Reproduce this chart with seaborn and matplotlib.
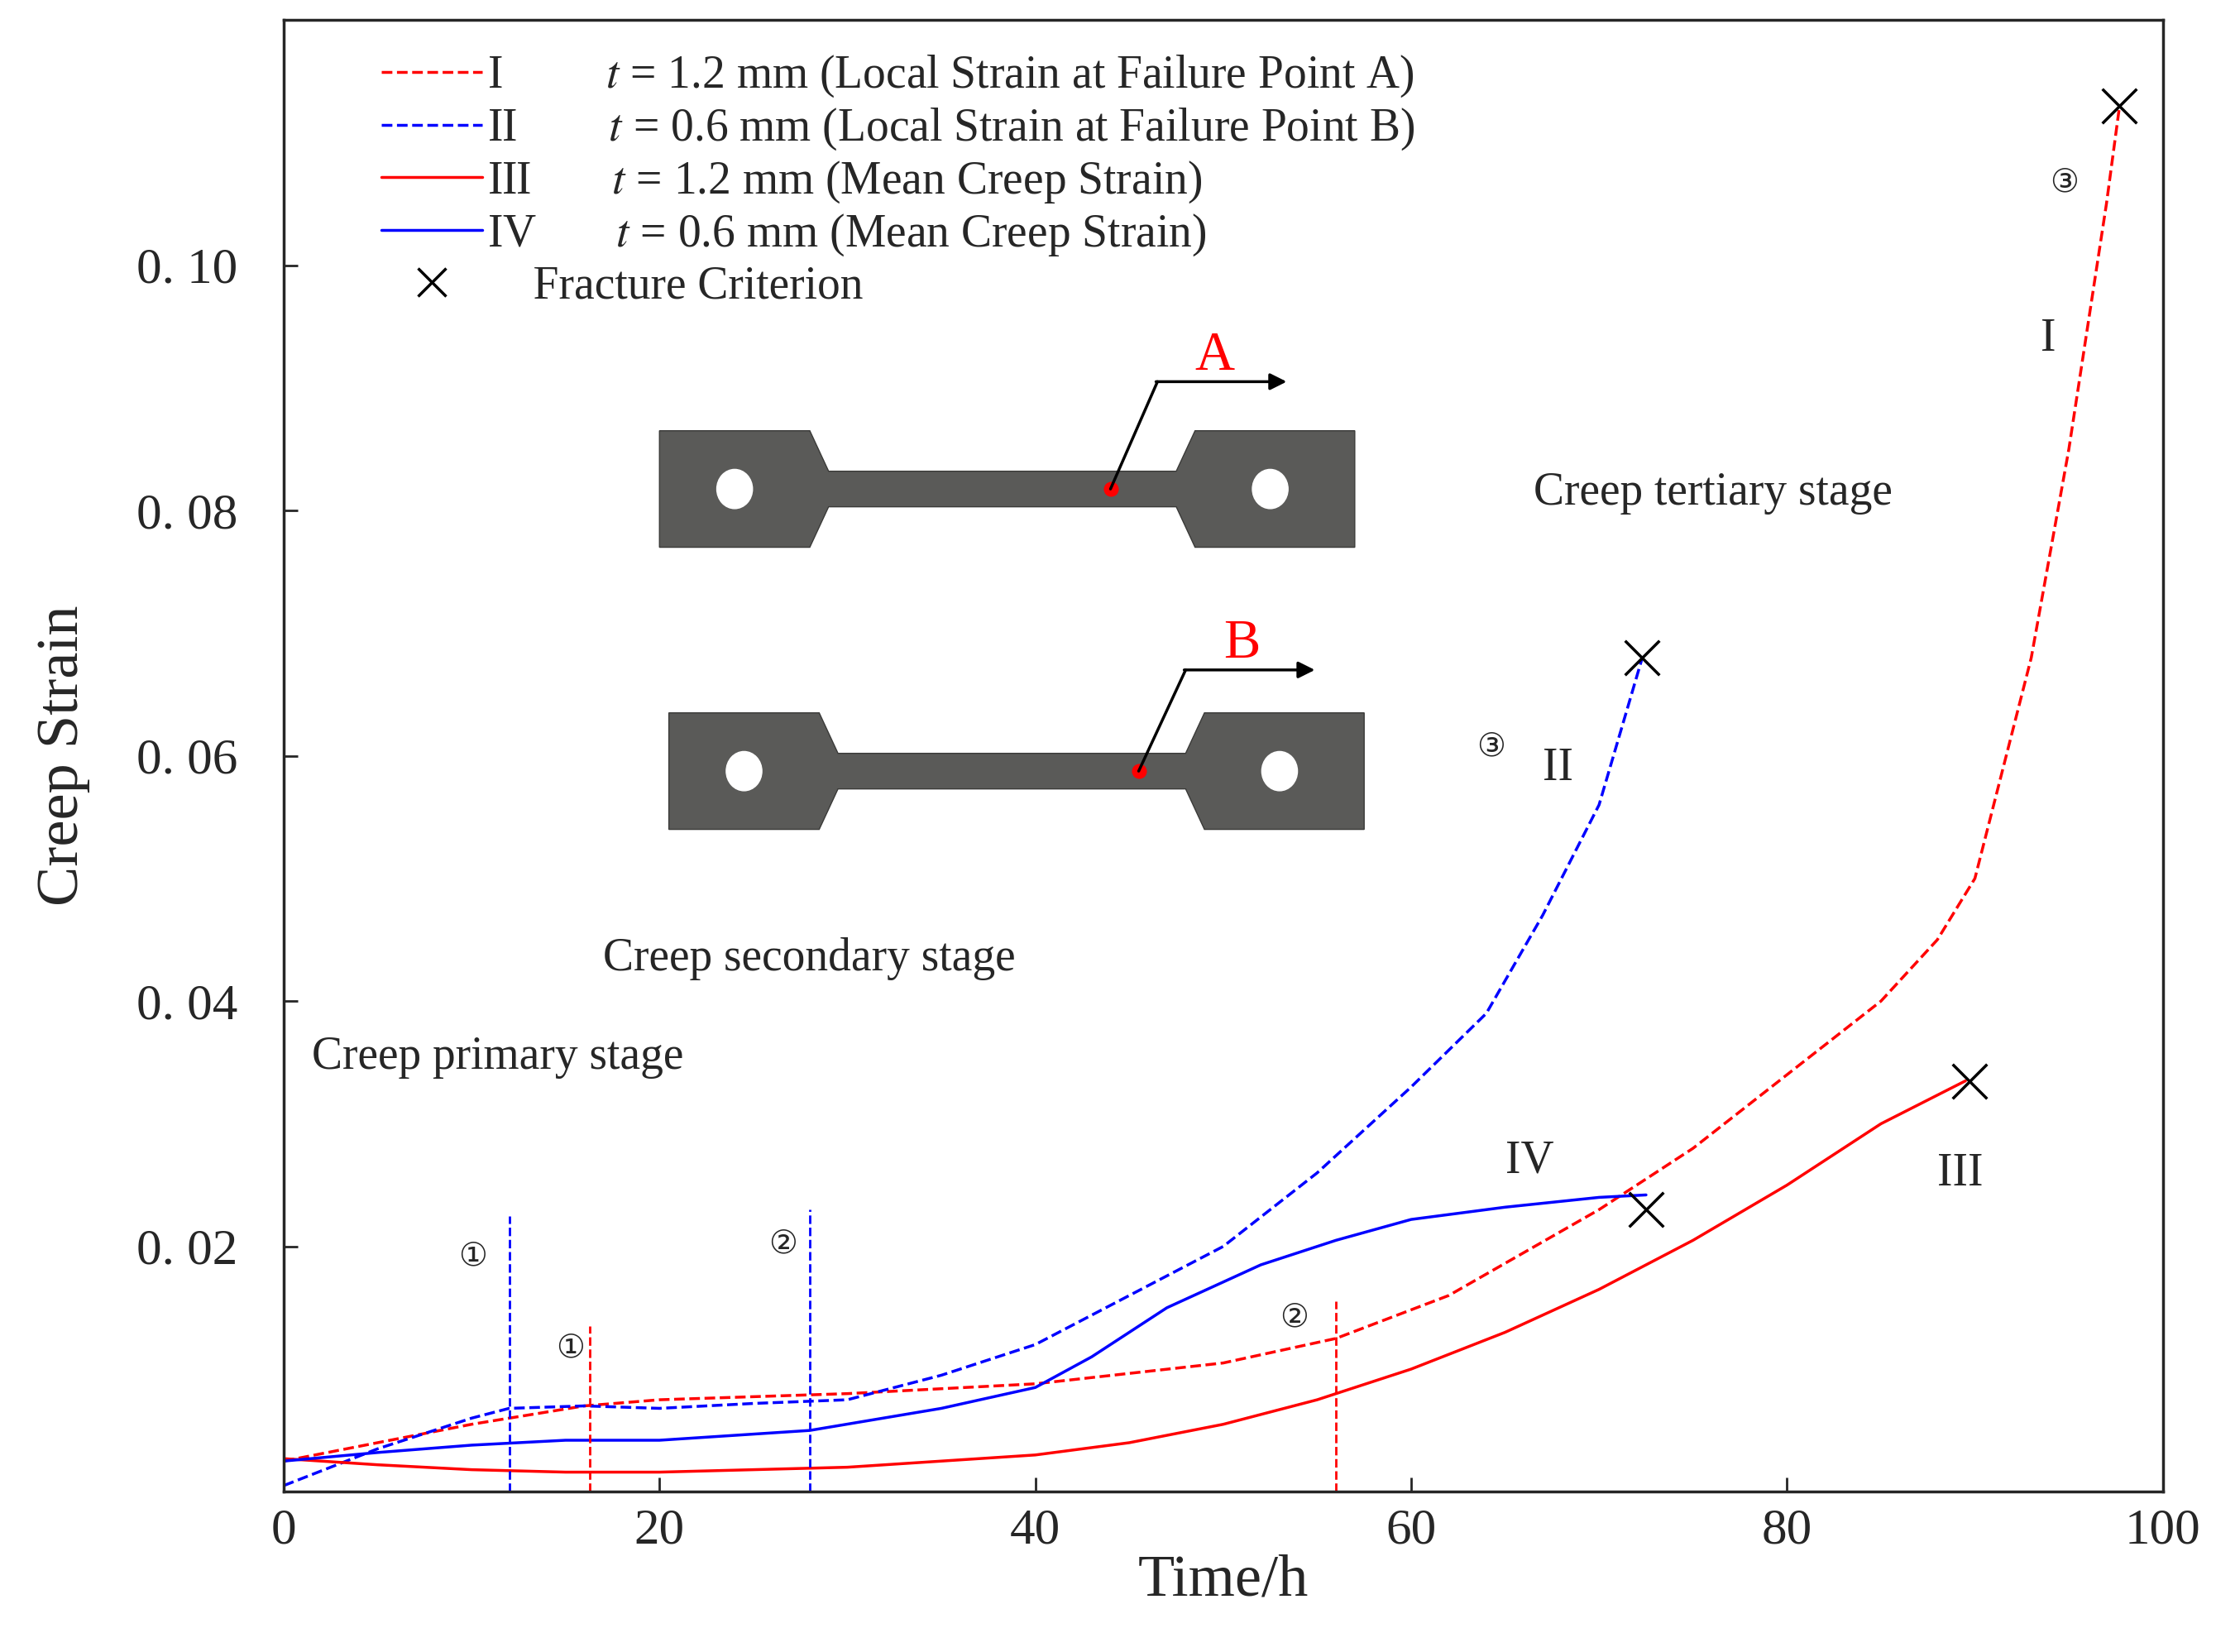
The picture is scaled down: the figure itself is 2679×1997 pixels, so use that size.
import numpy as np
import seaborn as sns
import matplotlib
matplotlib.use("Agg")
from matplotlib import pyplot as plt
from matplotlib.lines import Line2D
from matplotlib.patches import Polygon, Ellipse

sns.set_style("ticks")
plt.rcParams['font.family'] = ['Liberation Serif', 'DejaVu Sans']
plt.rcParams['mathtext.fontset'] = 'stix'

# curve data
t1 = [0, 5, 10, 16, 20, 30, 40, 50, 56, 62, 70, 75, 80, 85, 88, 90, 93, 95, 97, 97.7]
s1 = [0.0025, 0.004, 0.0055, 0.007, 0.0075, 0.008, 0.0088, 0.0105, 0.0125, 0.016, 0.023,
      0.028, 0.034, 0.040, 0.045, 0.050, 0.068, 0.085, 0.105, 0.113]
t2 = [0, 5, 10, 12, 16, 20, 25, 30, 35, 40, 45, 50, 55, 60, 64, 67, 70, 72.3]
s2 = [0.0005, 0.0035, 0.006, 0.0068, 0.007, 0.0068, 0.0072, 0.0075, 0.0095, 0.012, 0.016,
      0.020, 0.026, 0.033, 0.039, 0.047, 0.056, 0.068]
t3 = [0, 5, 10, 15, 20, 30, 40, 45, 50, 55, 60, 65, 70, 75, 80, 85, 89.5]
s3 = [0.0027, 0.0022, 0.0018, 0.0016, 0.0016, 0.002, 0.003, 0.004, 0.0055, 0.0075, 0.010,
      0.013, 0.0165, 0.0205, 0.025, 0.030, 0.0335]
t4 = [0, 5, 10, 15, 20, 28, 35, 40, 43, 47, 52, 56, 60, 65, 70, 72.5]
s4 = [0.0025, 0.0032, 0.0038, 0.0042, 0.0042, 0.005, 0.0068, 0.0085, 0.011, 0.015, 0.0185,
      0.0205, 0.0222, 0.0232, 0.024, 0.0242]
fx = [97.7, 72.3, 72.5, 89.7]
fy = [0.113, 0.068, 0.023, 0.0335]
vl_x = [12, 28, 16.3, 56]
vl_top = [0.0225, 0.023, 0.0135, 0.0155]
vl_col = ['blue', 'blue', 'red', 'red']

fig, ax = plt.subplots(figsize=(26.79, 19.97), dpi=100)
fig.subplots_adjust(left=0.128, right=0.976, top=0.988, bottom=0.097)

sns.lineplot(x=t1, y=s1, ax=ax, color='red', lw=2.5, linestyle='--')
sns.lineplot(x=t2, y=s2, ax=ax, color='blue', lw=2.5, linestyle='--')
sns.lineplot(x=t3, y=s3, ax=ax, color='red', lw=2.5)
sns.lineplot(x=t4, y=s4, ax=ax, color='blue', lw=2.5)
ax.scatter(fx, fy, marker='x', s=900, color='black', lw=2.5, zorder=5)
for x, top, c in zip(vl_x, vl_top, vl_col):
    ax.plot([x, x], [0, top], color=c, lw=2, linestyle='--')

ax.set_xlim(0, 100)
ax.set_ylim(0, 0.12)
ax.set_xticks([0, 20, 40, 60, 80, 100])
ax.set_yticks([0.02, 0.04, 0.06, 0.08, 0.10])
ax.set_yticklabels(['0. 02', '0. 04', '0. 06', '0. 08', '0. 10'])
ax.tick_params(labelsize=44, direction='in', length=12, width=2, pad=14)
ax.tick_params(axis='y', pad=40)
for sp in ax.spines.values():
    sp.set_linewidth(2.5)
ax.set_xlabel('Time/h', fontsize=52, labelpad=0)
ax.set_ylabel('Creep Strain', fontsize=52, labelpad=40)

handles = [Line2D([], [], color='red', ls='--', lw=2.5),
           Line2D([], [], color='blue', ls='--', lw=2.5),
           Line2D([], [], color='red', lw=2.5),
           Line2D([], [], color='blue', lw=2.5),
           Line2D([], [], color='black', marker='x', ls='', ms=24, mew=2.5)]
labels = ['I         $t$ = 1.2 mm (Local Strain at Failure Point A)',
          'II        $t$ = 0.6 mm (Local Strain at Failure Point B)',
          'III       $t$ = 1.2 mm (Mean Creep Strain)',
          'IV       $t$ = 0.6 mm (Mean Creep Strain)',
          '    Fracture Criterion']
ax.legend(handles, labels, loc='upper left', frameon=False, fontsize=40,
          handlelength=2.2, handletextpad=0.1, labelspacing=0.15,
          bbox_to_anchor=(0.03, 1.005))

fs = 40
ax.text(1.5, 0.0345, 'Creep primary stage', fontsize=fs)
ax.text(17, 0.0425, 'Creep secondary stage', fontsize=fs)
ax.text(66.5, 0.0805, 'Creep tertiary stage', fontsize=fs)
for x, y, s in [(93.5, 0.093, 'I'), (67, 0.058, 'II'), (88, 0.025, 'III'), (65, 0.026, 'IV')]:
    ax.text(x, y, s, fontsize=fs)
circ = [(9.3, 0.0185, '①'), (14.5, 0.011, '①'), (25.8, 0.0195, '②'), (53, 0.0135, '②'),
        (63.5, 0.060, '③'), (94, 0.106, '③')]
for x, y, s in circ:
    ax.text(x, y, s, fontsize=28, family=['DejaVu Sans'])

# specimen sketches
def specimen(x0, y0, dot_x, letter, arrow_y):
    w, h = 37, 0.0095
    xs = [x0, x0 + 8, x0 + 9, x0 + 27.5, x0 + 28.5, x0 + w, x0 + w, x0 + 28.5, x0 + 27.5,
          x0 + 9, x0 + 8, x0]
    ys = [y0, y0, y0 + 0.0033, y0 + 0.0033, y0, y0, y0 + h, y0 + h, y0 + h - 0.0033,
          y0 + h - 0.0033, y0 + h, y0 + h]
    ax.add_patch(Polygon(list(zip(xs, ys)), closed=True, fc='#5a5a58', ec='#3a3a38', zorder=3))
    for cx in (x0 + 4, x0 + w - 4.5):
        ax.add_patch(Ellipse((cx, y0 + h / 2), 1.9, 0.0032, fc='white', zorder=4))
    ax.plot([dot_x], [y0 + h / 2], 'o', color='red', ms=12, zorder=5)
    ax.plot([dot_x, dot_x + 2.5], [y0 + h / 2, arrow_y], color='black', lw=2.5, zorder=5)
    ax.annotate('', xy=(dot_x + 9.5, arrow_y), xytext=(dot_x + 2.3, arrow_y),
                arrowprops=dict(arrowstyle='-|>', color='black', lw=2.5, mutation_scale=30))
    ax.text(dot_x + 4.5, arrow_y + 0.001, letter, color='red', fontsize=48)

specimen(20, 0.077, 44, 'A', 0.0905)
specimen(20.5, 0.054, 45.5, 'B', 0.067)

fig.savefig('out.png', dpi=100)
